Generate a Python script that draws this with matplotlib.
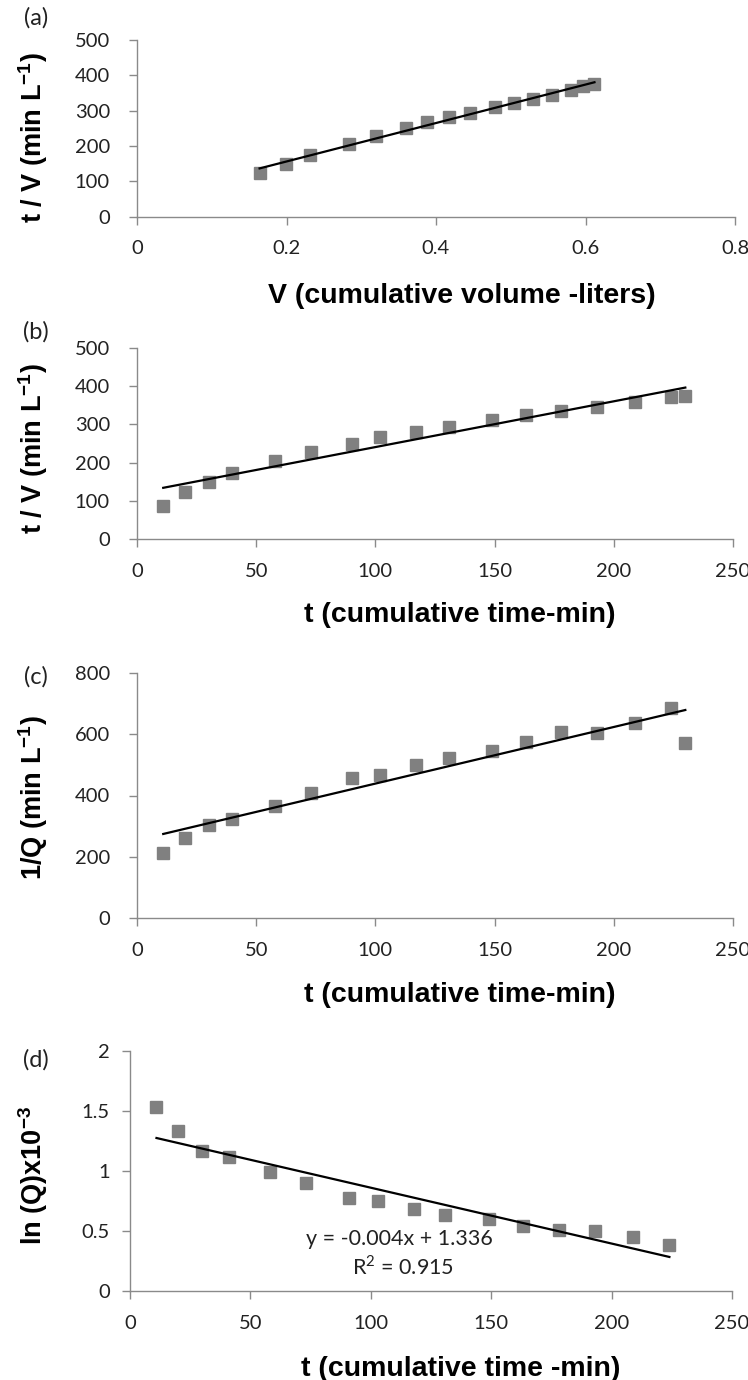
import numpy as np
import matplotlib
matplotlib.use("Agg")
import matplotlib.pyplot as plt

W, H = 748, 1380

# panel (a): t/V against cumulative volume
vol_a = [0.164, 0.199, 0.232, 0.283, 0.320, 0.360, 0.388, 0.418, 0.446, 0.479,
         0.504, 0.530, 0.555, 0.580, 0.596, 0.612]
tv_a = [122, 148, 174, 205, 228, 251, 268, 282, 293, 310, 322, 334, 345, 357, 369, 374]

# panels (b), (c): against cumulative time
time_bc = [11, 20, 30, 40, 58, 73, 90, 102, 117, 131, 149, 163, 178, 193, 209, 224, 230]
tv_b = [86, 122, 149, 174, 205, 227, 249, 266, 280, 293, 311, 324, 336, 346, 358, 371, 375]
invq_c = [213, 260, 305, 324, 367, 408, 457, 468, 498, 522, 545, 574, 607, 605, 638, 686, 572]

# panel (d)
time_d = [11, 20, 30, 41, 58, 73, 91, 103, 118, 131, 149, 163, 178, 193, 209, 224]
lnq_d = [1.535, 1.335, 1.166, 1.118, 0.993, 0.896, 0.779, 0.751, 0.687, 0.637,
         0.598, 0.545, 0.506, 0.501, 0.451, 0.381]

eq_text = "y = -0.004x + 1.336"
r2_text = "R$^2$ = 0.915"

TICK_FONT = "Lato"
LABEL_FONT = "Liberation Sans"
grey = "#8a8a8a"
marker_col = "#808080"

fig = plt.figure(figsize=(W / 100, H / 100), dpi=100, facecolor="white")


def px_axes(left, right, top, bottom):
    return fig.add_axes([left / W, 1 - bottom / H, (right - left) / W, (bottom - top) / H])


def style(ax, xlim, ylim, xticks, yticks, xfmt, ypad):
    ax.set_xlim(*xlim)
    ax.set_ylim(*ylim)
    ax.set_xticks(xticks)
    ax.set_yticks(yticks)
    ax.set_xticklabels([xfmt(v) for v in xticks])
    ax.set_yticklabels(["%g" % v for v in yticks])
    for s in ["top", "right"]:
        ax.spines[s].set_visible(False)
    for s in ["left", "bottom"]:
        ax.spines[s].set_color(grey)
        ax.spines[s].set_linewidth(1.0)
    ax.tick_params(axis="both", direction="out", length=6, width=1.0, color=grey,
                   labelsize=14.5, labelcolor="#222222")
    ax.tick_params(axis="x", pad=11)
    ax.tick_params(axis="y", pad=ypad)
    for lab in ax.get_xticklabels() + ax.get_yticklabels():
        lab.set_fontfamily(TICK_FONT)


def scatter_fit(ax, x, y):
    x = np.asarray(x)
    y = np.asarray(y)
    ax.plot(x, y, linestyle="none", marker="s", markersize=8.5,
            color=marker_col, markeredgecolor=marker_col, zorder=2)
    k, b = np.polyfit(x, y, 1)
    xs = np.array([x.min(), x.max()])
    ax.plot(xs, k * xs + b, color="black", linewidth=1.6, zorder=3)


def labels(ax, xlabel, ylabel, xl_xy, yl_xy, tag, tag_xy):
    ax.set_xlabel(xlabel, fontsize=20.5, fontweight="bold", family=LABEL_FONT)
    ax.xaxis.set_label_coords(xl_xy[0] / W, 1 - xl_xy[1] / H, transform=fig.transFigure)
    ax.xaxis.label.set_va("baseline")
    ax.set_ylabel(ylabel, fontsize=19.5, fontweight="bold", family=LABEL_FONT)
    ax.yaxis.set_label_coords(yl_xy[0] / W, 1 - yl_xy[1] / H, transform=fig.transFigure)
    ax.yaxis.label.set_va("center")
    fig.text(tag_xy[0] / W, 1 - tag_xy[1] / H, tag, fontsize=17, family=TICK_FONT,
             ha="center", va="center", color="#222222")


plt.rcParams["mathtext.fontset"] = "custom"
plt.rcParams["mathtext.bf"] = "Liberation Sans:bold"
plt.rcParams["mathtext.rm"] = "Lato"

fmt_a = lambda v: "0" if v == 0 else "%.1f" % v
fmt_int = lambda v: "%d" % v

# (a)
ax = px_axes(137, 735, 40, 216.5)
scatter_fit(ax, vol_a, tv_a)
style(ax, (0, 0.8), (0, 500), [0, 0.2, 0.4, 0.6, 0.8], [0, 100, 200, 300, 400, 500], fmt_a, 13.5)
labels(ax, "V (cumulative volume -liters)", r"t / V (min L$\mathbf{^{-1}}$)",
       (462, 303), (33, 138), "(a)", (36, 18))

# (b)
ax = px_axes(137, 733, 348, 539)
scatter_fit(ax, time_bc, tv_b)
style(ax, (0, 250), (0, 500), [0, 50, 100, 150, 200, 250], [0, 100, 200, 300, 400, 500], fmt_int, 13.5)
labels(ax, "t (cumulative time-min)", r"t / V (min L$\mathbf{^{-1}}$)",
       (460, 622), (33, 449), "(b)", (36, 332))

# (c)
ax = px_axes(137, 733, 673, 918)
scatter_fit(ax, time_bc, invq_c)
style(ax, (0, 250), (0, 800), [0, 50, 100, 150, 200, 250], [0, 200, 400, 600, 800], fmt_int, 13.5)
labels(ax, "t (cumulative time-min)", r"1/Q (min L$\mathbf{^{-1}}$)",
       (460, 1002), (33, 798), "(c)", (36, 677))

# (d)
ax = px_axes(130, 732, 1051, 1291)
scatter_fit(ax, time_d, lnq_d)
style(ax, (0, 250), (0, 2), [0, 50, 100, 150, 200, 250], [0, 0.5, 1, 1.5, 2], fmt_int, 8.5)
labels(ax, "t (cumulative time -min)", r"ln (Q)x10$\mathbf{^{-3}}$",
       (461, 1376), (33, 1175), "(d)", (36, 1060))
ax.text(112, 0.437, eq_text, ha="center", va="center", fontsize=15.5, family=TICK_FONT, color="#222222")
ax.text(113.5, 0.2, r2_text, ha="center", va="center", fontsize=15.5, family=TICK_FONT, color="#222222")

fig.savefig("out.png", dpi=100, facecolor="white")
